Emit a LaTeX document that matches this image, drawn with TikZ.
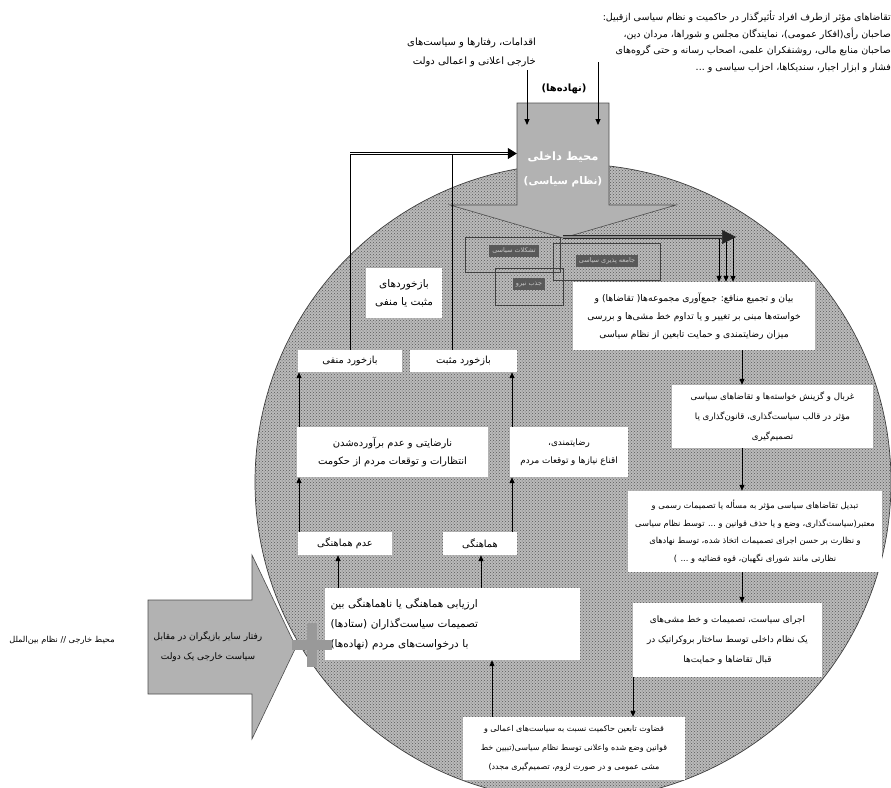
\documentclass[tikz,border=0pt]{standalone}
\usepackage{fontspec}
\usetikzlibrary{patterns,arrows.meta}
\TeXXeTstate=1
\newfontfamily\fa[Script=Arabic]{DejaVu Sans}
\newcommand{\rl}[1]{\beginR #1\endR}
\tikzset{
  base/.style={font=\fa\fontsize{9.5}{18}\selectfont, inner sep=0pt},
  wbox/.style={base, fill=white, align=center},
  plain/.style={base, align=center},
  frame/.style={draw=black!75, line width=0.6pt},
  dlabel/.style={fill=black!65, text=black!22, font=\fa\fontsize{6.5}{8}\selectfont, inner xsep=3pt, inner ysep=3pt},
  arr/.style={draw=black, line width=1pt, -{Triangle[length=6pt,width=5pt]}},
  fb/.style={draw=black, line width=0.8pt},
  dbl/.style={draw=black, line width=0.7pt, double=white, double distance=1.8pt, -{Triangle[length=9pt,width=11pt]}},
  bigdbl/.style={draw=black!85, line width=0.7pt, double=black!45, double distance=2.2pt, -{Triangle[length=14pt,width=14pt]}},
  garrow/.style={fill=black!30, draw=black!70, line width=0.6pt},
}
\begin{document}
\begin{tikzpicture}[x=1pt,y=-1pt]
\useasboundingbox (0,0) rectangle (891,787);
% system circle
\fill[black!27] (573,482) circle[radius=318pt];
\fill[pattern=crosshatch dots, pattern color=black!65] (573,482) circle[radius=318pt];
\draw[black!75, line width=0.7pt] (573,482) circle[radius=318pt];

% top gray arrow (internal environment)
\path[garrow] (517,103) -- (609,103) -- (609,205) -- (676,205) -- (563,238) -- (450,205) -- (517,205) -- cycle;
\node[name=GB, minimum width=92pt, minimum height=101pt, inner sep=0pt] at (563,153.5) {};
\node[base, name=GBt1, text=white, font=\fa\bfseries\fontsize{11.5}{14}\selectfont] at (563,157) {\rl{محیط داخلی}};
\node[base, name=GBt2, text=white, font=\fa\bfseries\fontsize{10.5}{14}\selectfont] at (563,182) {\rl{(نظام سیاسی)}};
\coordinate (tip) at (563,237);
\coordinate (gbin) at (563,125);
\node[base, name=nah, font=\fa\bfseries\fontsize{10}{12}\selectfont] at (564,89) {\rl{(نهاده‌ها)}};

% top texts
\node[plain, name=dem, anchor=north east, align=right, font=\fa\fontsize{9.5}{16.5}\selectfont] at (891,11)
 {\rl{تقاضاهای مؤثر ازطرف افراد تأثیرگذار در حاکمیت و نظام سیاسی ازقبیل:}\\
  \rl{صاحبان رأی(افکار عمومی)، نمایندگان مجلس و شوراها، مردان دین،}\\
  \rl{صاحبان منابع مالی، روشنفکران علمی، اصحاب رسانه و حتی گروه‌های}\\
  \rl{فشار و ابزار اجبار، سندیکاها، احزاب سیاسی و ...}};
\node[plain, name=act, anchor=north east, align=right, font=\fa\fontsize{10}{19}\selectfont] at (536,38)
 {\rl{اقدامات، رفتارها و سیاست‌های}\\ \rl{خارجی اعلانی و اعمالی دولت}};
\coordinate (actfoot) at (527,70);
\coordinate (demfoot) at (598,62);
\draw[arr] (actfoot) -- (actfoot |- gbin);
\draw[arr] (demfoot) -- (demfoot |- gbin);

% overlapping frames with dark labels
\node[frame, name=RA, minimum width=95pt, minimum height=35pt, inner sep=0pt] at (512.5,254.5) {};
\node[frame, name=RB, minimum width=107pt, minimum height=37pt, inner sep=0pt] at (606.5,261.5) {};
\node[frame, name=RC, minimum width=68pt, minimum height=37pt, inner sep=0pt] at (529,286.5) {};
\node[dlabel, name=LA] at (514,251) {\rl{تشکلات سیاسی}};
\node[dlabel, name=LB] at (607,261) {\rl{جامعه پذیری سیاسی}};
\node[dlabel, name=LC] at (529,284) {\rl{جذب نیرو}};

% right column boxes
\node[wbox, name=B1, minimum width=242pt, minimum height=68pt, font=\fa\fontsize{9.2}{18}\selectfont] at (694,316)
 {\rl{بیان و تجمیع منافع: جمع‌آوری مجموعه‌ها( تقاضاها) و}\\
  \rl{خواسته‌ها مبنی بر تغییر و یا تداوم خط مشی‌ها و بررسی}\\
  \rl{میزان رضایتمندی و حمایت تابعین از نظام سیاسی}};
\node[wbox, name=B2, minimum width=201pt, minimum height=63pt, font=\fa\fontsize{8.6}{20}\selectfont] at (772.5,416.5)
 {\rl{غربال و گزینش خواسته‌ها و تقاضاهای سیاسی}\\
  \rl{مؤثر در قالب سیاست‌گذاری، قانون‌گذاری یا}\\
  \rl{تصمیم‌گیری}};
\node[wbox, name=B3, minimum width=254pt, minimum height=81pt, font=\fa\fontsize{8.3}{17.5}\selectfont] at (755,531.5)
 {\rl{تبدیل تقاضاهای سیاسی مؤثر به مسأله یا تصمیمات رسمی و}\\
  \rl{معتبر(سیاست‌گذاری، وضع و یا حذف قوانین و ... توسط نظام سیاسی}\\
  \rl{و نظارت بر حسن اجرای تصمیمات اتخاذ شده، توسط نهادهای}\\
  \rl{نظارتی مانند شورای نگهبان، قوه قضائیه و ... )}};
\node[wbox, name=B4, minimum width=189pt, minimum height=74pt, font=\fa\fontsize{8.9}{20}\selectfont] at (727.5,640)
 {\rl{اجرای سیاست، تصمیمات و خط مشی‌های}\\
  \rl{یک نظام داخلی توسط ساختار بروکراتیک در}\\
  \rl{قبال تقاضاها و حمایت‌ها}};
\node[wbox, name=B5, minimum width=222pt, minimum height=63pt, font=\fa\fontsize{8}{19}\selectfont] at (574,748.5)
 {\rl{قضاوت تابعین حاکمیت نسبت به سیاست‌های اعمالی و}\\
  \rl{قوانین وضع شده واعلانی توسط نظام سیاسی(تبیین خط}\\
  \rl{مشی عمومی و در صورت لزوم، تصمیم‌گیری مجدد)}};

% left column boxes
\node[wbox, name=B6, text width=244pt, inner xsep=5.5pt, minimum height=72pt, align=left, font=\fa\fontsize{10.5}{20}\selectfont] at (452.5,624)
 {\rl{ارزیابی هماهنگی یا ناهماهنگی بین}\\
  \rl{تصمیمات سیاست‌گذاران (ستادها)}\\
  \rl{با درخواست‌های مردم (نهاده‌ها)}};
\node[wbox, name=B7, minimum width=94pt, minimum height=23pt, font=\fa\fontsize{9.8}{12}\selectfont] at (345,543.5) {\rl{عدم هماهنگی}};
\node[wbox, name=B8, minimum width=74pt, minimum height=23pt, font=\fa\fontsize{9.8}{12}\selectfont] at (480,543.5) {\rl{هماهنگی}};
\node[wbox, name=B9, minimum width=191pt, minimum height=50pt, font=\fa\fontsize{10}{18}\selectfont] at (392.5,452)
 {\rl{نارضایتی و عدم برآورده‌شدن}\\ \rl{انتظارات و توقعات مردم از حکومت}};
\node[wbox, name=B10, minimum width=118pt, minimum height=50pt, font=\fa\fontsize{8.8}{18}\selectfont] at (569,452)
 {\rl{رضایتمندی،}\\ \rl{اقناع نیازها و توقعات مردم}};
\node[wbox, name=B11, minimum width=104pt, minimum height=22pt, font=\fa\fontsize{9.8}{12}\selectfont] at (350,361) {\rl{بازخورد منفی}};
\node[wbox, name=B12, minimum width=107pt, minimum height=22pt, font=\fa\fontsize{9.8}{12}\selectfont] at (463.5,361) {\rl{بازخورد مثبت}};
\node[wbox, name=B13, minimum width=76pt, minimum height=50pt, font=\fa\fontsize{10.5}{18}\selectfont] at (404,293)
 {\rl{بازخوردهای}\\ \rl{مثبت یا منفی}};

% column coordinates
\coordinate (colx) at (742,0);
\coordinate (colb) at (633,0);
\coordinate (colc) at (492,0);
\coordinate (cold) at (338,0);
\coordinate (cole) at (481,0);
\coordinate (colf) at (299,0);
\coordinate (colg) at (512,0);
\coordinate (colh) at (452,0);

% output arrow from system to articulation
\coordinate (hub) at (736,237);
\coordinate (d1) at (719,237);
\coordinate (d2) at (726,237);
\coordinate (d3) at (733,237);
\draw[arr, line width=0.8pt] (d1) -- (d1 |- B1.north);
\draw[arr, line width=0.8pt] (d2) -- (d2 |- B1.north);
\draw[arr, line width=0.8pt] (d3) -- (d3 |- B1.north);
\draw[bigdbl] (tip) -- (hub);

% flow arrows
\draw[arr] (B1.south -| colx) -- (B2.north -| colx);
\draw[arr] (B2.south -| colx) -- (B3.north -| colx);
\draw[arr] (B3.south -| colx) -- (B4.north -| colx);
\draw[arr] (B4.south -| colb) -- (B5.north -| colb);
\draw[arr] (B5.north -| colc) -- (B6.south -| colc);
\draw[arr] (B6.north -| cold) -- (B7.south -| cold);
\draw[arr] (B6.north -| cole) -- (B8.south -| cole);
\draw[arr] (B7.north -| colf) -- (B9.south -| colf);
\draw[arr] (B8.north -| colg) -- (B10.south -| colg);
\draw[arr] (B9.north -| colf) -- (B11.south -| colf);
\draw[arr] (B10.north -| colg) -- (B12.south -| colg);

% feedback to the internal environment
\draw[fb] (B11.north) -- (B11.north |- GB.west);
\draw[fb] (B12.north -| colh) -- (colh |- GB.west);
\draw[dbl] (B11.north |- GB.west) -- (GB.west);

% external environment arrow
\path[garrow] (148,600) -- (252,600) -- (252,555) -- (296,647) -- (252,739) -- (252,694) -- (148,694) -- cycle;
\node[plain, name=EXT, font=\fa\fontsize{9}{20}\selectfont] at (208,647)
 {\rl{رفتار سایر بازیگران در مقابل}\\ \rl{سیاست خارجی یک دولت}};
\node[plain, name=ENV, font=\fa\fontsize{8.2}{10}\selectfont] at (62,640) {\rl{محیط خارجی // نظام بین‌الملل}};
% plus sign
\fill[black!40] (307,623) rectangle (317,667);
\fill[black!40] (292,640) rectangle (332,650);
\end{tikzpicture}
\end{document}
